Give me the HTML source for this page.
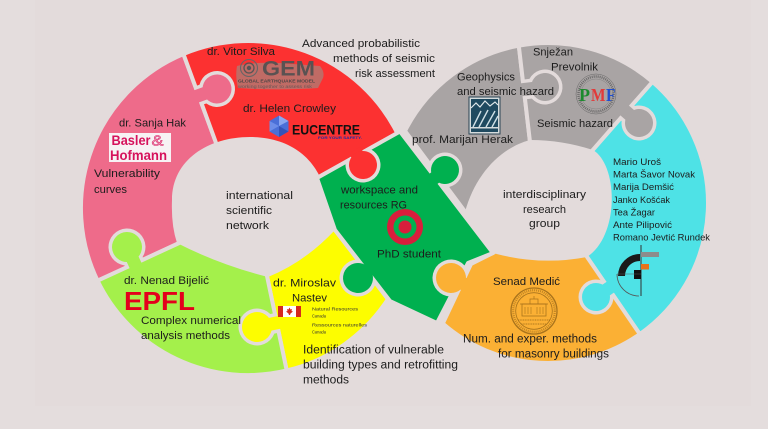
<!DOCTYPE html>
<html><head><meta charset="utf-8">
<style>html,body{margin:0;padding:0;background:#e4dddd;}svg{display:block}</style>
</head><body>
<svg width="768" height="429" viewBox="0 0 768 429" xmlns="http://www.w3.org/2000/svg">
<defs>
<clipPath id="k1"><rect x="-40" y="-40" width="59.5" height="80"/></clipPath>
<clipPath id="k2"><rect x="-40" y="-40" width="58.3" height="80"/></clipPath>
<clipPath id="k3"><rect x="-40" y="-40" width="60" height="80"/></clipPath>
<clipPath id="k4"><rect x="-40" y="-40" width="51.2" height="80"/></clipPath>
<clipPath id="k5"><rect x="-40" y="-40" width="51.1" height="80"/></clipPath>
<clipPath id="k6"><rect x="-40" y="-40" width="52.3" height="80"/></clipPath>
<clipPath id="k7"><rect x="-40" y="-40" width="52.1" height="80"/></clipPath>
<clipPath id="k8"><rect x="-40" y="-40" width="60" height="80"/></clipPath>
<clipPath id="k9"><rect x="-40" y="-40" width="57" height="80"/></clipPath>
<clipPath id="k10"><rect x="-40" y="-40" width="55.2" height="80"/></clipPath>
</defs>
<rect x="0" y="0" width="768" height="429" fill="#e4dddd"/>
<rect x="35" y="0" width="716" height="406" fill="#e3dbdb"/>

<!-- ring pieces -->
<g stroke="#e3dbdb" stroke-width="4" stroke-linejoin="round">
  <path d="M213,227 L177,244 L97.6,280.7 A167 167 0 0 1 183.4,54 L215,140 L232,187 Z" fill="#ee6b8a"/>
  <path d="M232,187 L215,140 L183.4,54 A167 167 0 0 1 397.3,133.2 L317,178 L290,193 Z" fill="#fc3131"/>
  <path d="M315,205 L335,230 L387.9,299.2 A167 167 0 0 1 286.7,370.5 L267,276 L259,237 Z" fill="#fdfd00"/>
  <path d="M259,237 L267,276 L286.7,370.5 A167 167 0 0 1 97.6,280.7 L177,244 L213,227 Z" fill="#a4f04b"/>
  <path d="M535,185 L518.8,45.7 A160 160 0 0 0 405,131 L472,221 L500,215 Z" fill="#a9a4a4"/>
  <path d="M535,185 L518.8,45.7 A160 160 0 0 1 652.5,81.9 L593,150 L570,176 Z" fill="#a9a4a4"/>
  <path d="M570,176 L652.5,81.9 A160 160 0 0 1 639.8,334.1 L587,257 L570,232 Z" fill="#4ee2e6"/>
  <path d="M570,232 L639.8,334.1 A160 160 0 0 1 442.8,323.5 L471,264 L493,253 L520,235 Z" fill="#fbb034"/>
</g>

<!-- holes -->
<path d="M172,200 C172,160 208,137 250,137 C290,137 316,158 325,190 L335,230 Q305,262 268,277 Q220,265 177,243 Q171,225 172,200 Z" fill="#e3dbdb"/>
<path d="M530,140 Q562,140 593,150 C618,165 620,235 587,257 Q540,266 493,253 L465,212 C475,175 500,148 530,140 Z" fill="#e3dbdb"/>

<!-- green crossing piece -->
<path d="M317,178 L400,131.5 L493,253 L468,263 L437,323 L390,301 L335,230 Z" fill="#00b04f" stroke="#e3dbdb" stroke-width="4" stroke-linejoin="round"/>

<!-- knobs -->
<g transform="translate(217,89) rotate(160.2)"><circle r="18" fill="#e3dbdb" clip-path="url(#k1)"/><rect x="0" y="-10" width="19.5" height="20" fill="#e3dbdb"/><rect x="0" y="-6.5" width="25.5" height="13" fill="#ee6b8a"/><circle r="14.5" fill="#ee6b8a"/></g>
<g transform="translate(127,247) rotate(65.2)"><circle r="18.5" fill="#e3dbdb" clip-path="url(#k2)"/><rect x="0" y="-10" width="18.3" height="20" fill="#e3dbdb"/><rect x="0" y="-6.5" width="24.3" height="13" fill="#a4f04b"/><circle r="15" fill="#a4f04b"/></g>
<g transform="translate(257,327) rotate(-11.8)"><circle r="18.5" fill="#e3dbdb" clip-path="url(#k3)"/><rect x="0" y="-10" width="20" height="20" fill="#e3dbdb"/><rect x="0" y="-6.5" width="26" height="13" fill="#fdfd00"/><circle r="15" fill="#fdfd00"/></g>
<g transform="translate(363,165) rotate(-119.3)"><circle r="17.5" fill="#e3dbdb" clip-path="url(#k4)"/><rect x="0" y="-10" width="11.2" height="20" fill="#e3dbdb"/><rect x="0" y="-6.5" width="17.2" height="13" fill="#fc3131"/><circle r="14" fill="#fc3131"/></g>
<g transform="translate(358,278) rotate(-37.7)"><circle r="18.5" fill="#e3dbdb" clip-path="url(#k5)"/><rect x="0" y="-10" width="11.1" height="20" fill="#e3dbdb"/><rect x="0" y="-6.5" width="17.1" height="13" fill="#00b04f"/><circle r="15" fill="#00b04f"/></g>
<g transform="translate(445,170) rotate(142.6)"><circle r="17.5" fill="#e3dbdb" clip-path="url(#k6)"/><rect x="0" y="-10" width="12.3" height="20" fill="#e3dbdb"/><rect x="0" y="-6.5" width="18.3" height="13" fill="#00b04f"/><circle r="14" fill="#00b04f"/></g>
<g transform="translate(451,278) rotate(25.3)"><circle r="18.5" fill="#e3dbdb" clip-path="url(#k7)"/><rect x="0" y="-10" width="12.1" height="20" fill="#e3dbdb"/><rect x="0" y="-6.5" width="18.1" height="13" fill="#fbb034"/><circle r="15" fill="#fbb034"/></g>
<g transform="translate(545,87) rotate(173.2)"><circle r="17.5" fill="#e3dbdb" clip-path="url(#k8)"/><rect x="0" y="-10" width="20" height="20" fill="#e3dbdb"/><rect x="0" y="-6.5" width="26" height="13" fill="#a9a4a4"/><circle r="14" fill="#a9a4a4"/></g>
<g transform="translate(639,123) rotate(-138.9)"><circle r="17.5" fill="#e3dbdb" clip-path="url(#k9)"/><rect x="0" y="-10" width="17" height="20" fill="#e3dbdb"/><rect x="0" y="-6.5" width="23" height="13" fill="#a9a4a4"/><circle r="14" fill="#a9a4a4"/></g>
<g transform="translate(596,297) rotate(-34.4)"><circle r="17.5" fill="#e3dbdb" clip-path="url(#k10)"/><rect x="0" y="-10" width="15.2" height="20" fill="#e3dbdb"/><rect x="0" y="-6.5" width="21.2" height="13" fill="#4ee2e6"/><circle r="14" fill="#4ee2e6"/></g>

<!-- GEM logo -->
<path d="M237,66 Q250,62 280,63 L320,66 Q325,72 323,78 L318,88 Q290,90 255,89 L238,88 Q235,77 237,66 Z" fill="#c06b65"/>
<circle cx="249" cy="68" r="2.2" fill="#555"/>
<circle cx="249" cy="68" r="5" fill="none" stroke="#555" stroke-width="1.3"/>
<circle cx="249" cy="68" r="8.5" fill="none" stroke="#666" stroke-width="1.1"/>
<text x="262" y="75.5" font-family="'Liberation Sans', sans-serif" font-size="21" font-weight="bold" fill="#5a5252" textLength="53" lengthAdjust="spacingAndGlyphs">GEM</text>
<text x="238" y="82.3" font-family="'Liberation Sans', sans-serif" font-size="4.5" font-weight="bold" fill="#4d4545" textLength="77" lengthAdjust="spacingAndGlyphs">GLOBAL EARTHQUAKE MODEL</text>
<text x="238" y="88" font-family="'Liberation Sans', sans-serif" font-size="4.2" fill="#6b5656" textLength="74" lengthAdjust="spacingAndGlyphs">working together to assess risk</text>

<!-- EUCENTRE logo -->
<polygon points="279,115.5 288.5,121 288.5,131.5 279,137 269.5,131.5 269.5,121" fill="#4a6fd8"/>
<polygon points="279,115.5 288.5,121 279,126" fill="#8aa6f0"/>
<polygon points="269.5,121 279,126 269.5,131.5" fill="#6c8de8"/>
<polygon points="279,126 288.5,131.5 279,137" fill="#3553b8"/>
<text x="292" y="134.5" font-family="'Liberation Sans', sans-serif" font-size="13.5" font-weight="bold" fill="#111" textLength="68" lengthAdjust="spacingAndGlyphs">EUCENTRE</text>
<text x="318" y="138.8" font-family="'Liberation Sans', sans-serif" font-size="4" font-weight="bold" fill="#2030a0" textLength="44" lengthAdjust="spacingAndGlyphs">FOR YOUR SAFETY.</text>

<!-- Basler & Hofmann -->
<rect x="109" y="133" width="62" height="29" fill="#f7f2f4"/>
<text x="111.5" y="145" font-family="'Liberation Sans', sans-serif" font-size="14" font-weight="bold" fill="#d6125c" textLength="39" lengthAdjust="spacingAndGlyphs">Basler</text>
<text x="151.5" y="145.5" font-family="'Liberation Sans', sans-serif" font-size="15" fill="#f3b3c9" stroke="#d6125c" stroke-width="0.5" textLength="12" lengthAdjust="spacingAndGlyphs">&amp;</text>
<text x="110" y="160" font-family="'Liberation Sans', sans-serif" font-size="14" font-weight="bold" fill="#d6125c" textLength="57" lengthAdjust="spacingAndGlyphs">Hofmann</text>

<!-- EPFL -->
<text x="124" y="310" font-family="'Liberation Sans', sans-serif" font-size="26" font-weight="bold" fill="#e4001c" textLength="71" lengthAdjust="spacingAndGlyphs">EPFL</text>

<!-- Canada -->
<rect x="278" y="306" width="5" height="11" fill="#d52b1e"/>
<rect x="283" y="306" width="13" height="11" fill="#ffffff"/>
<rect x="296" y="306" width="5" height="11" fill="#d52b1e"/>
<path d="M289.5,307.5 L290.5,309.5 L292,309 L291.5,311 L293,311.5 L290.5,313.5 L290,315 L289,315 L288.5,313.5 L286,311.5 L287.5,311 L287,309 L288.5,309.5 Z" fill="#d52b1e"/>
<g font-family="'Liberation Sans', sans-serif" font-size="4.6" fill="#333">
<text x="312" y="310.5" textLength="46" lengthAdjust="spacingAndGlyphs">Natural Resources</text>
<text x="312" y="317.5" textLength="14" lengthAdjust="spacingAndGlyphs">Canada</text>
<text x="312" y="326.5" textLength="55" lengthAdjust="spacingAndGlyphs">Ressources naturelles</text>
<text x="312" y="333.5" textLength="14" lengthAdjust="spacingAndGlyphs">Canada</text>
</g>

<!-- target -->
<circle cx="405" cy="227" r="18" fill="#d81e3c"/>
<circle cx="405" cy="227" r="11.5" fill="#00b04f"/>
<circle cx="405" cy="227" r="6.5" fill="#d81e3c"/>

<!-- Herak logo -->
<rect x="469" y="97" width="31" height="37" fill="#d5dbdc" stroke="#2b4455" stroke-width="1"/>
<rect x="471" y="99" width="27" height="28" fill="#1f4a60"/>
<rect x="471" y="128.5" width="27" height="3.5" fill="#1f4a60"/>
<polyline points="471,108 476,103 480,107 485,101 490,106 495,102 498,105" fill="none" stroke="#e0e8ea" stroke-width="1.2"/>
<path d="M473,127 L481,111 M479,127 L488,110 M486,127 L495,111 M492,127 L498,116" stroke="#cfe0e6" stroke-width="1.4" fill="none"/>

<!-- PMF logo -->
<circle cx="596" cy="94" r="20" fill="none" stroke="#666" stroke-width="0.5"/>
<circle cx="596" cy="94" r="17.5" fill="none" stroke="#555" stroke-width="2.5" stroke-dasharray="1 1" opacity="0.75"/>
<circle cx="596" cy="94" r="15" fill="none" stroke="#777" stroke-width="0.4"/>
<text x="579" y="101" font-family="'Liberation Serif', serif" font-size="18" font-weight="bold" fill="#1d8a2e" textLength="11" lengthAdjust="spacingAndGlyphs">P</text>
<text x="591" y="101" font-family="'Liberation Serif', serif" font-size="18" font-weight="bold" fill="#e23a3a" textLength="14.5" lengthAdjust="spacingAndGlyphs">M</text>
<text x="606" y="101" font-family="'Liberation Serif', serif" font-size="18" font-weight="bold" fill="#1f4fd0" textLength="9.5" lengthAdjust="spacingAndGlyphs">F</text>

<!-- GF logo -->
<line x1="641" y1="245" x2="641" y2="296" stroke="#333" stroke-width="1"/>
<rect x="641" y="252" width="18" height="5" fill="#8c8c8c"/>
<rect x="641" y="264" width="8" height="5.5" fill="#e8731a"/>
<path d="M621.5,276 A18.5 18.5 0 0 1 640,257.5" fill="none" stroke="#1a1a1a" stroke-width="7"/>
<rect x="634" y="270" width="7" height="9" fill="#111"/>
<path d="M617,274 A22 22 0 0 0 639,296" fill="none" stroke="#555" stroke-width="0.8"/>
<line x1="617" y1="274" x2="641" y2="274" stroke="#555" stroke-width="0.6"/>

<!-- University seal -->
<g fill="none" stroke="#a8731c">
<circle cx="534" cy="311" r="23" stroke-width="1.3"/>
<circle cx="534" cy="311" r="20.8" stroke-width="2.2" stroke-dasharray="1 1" opacity="0.7"/>
<circle cx="534" cy="311" r="18.3" stroke-width="0.8"/>
<rect x="522" y="304" width="24" height="12" stroke-width="0.8"/>
<path d="M525,307v7M528,307v7M531,307v7M537,307v7M540,307v7M543,307v7" stroke-width="0.6"/>
<path d="M530,304v-5h8v5M534,299v-3M520,304h28" stroke-width="0.7"/>
<path d="M518,320h32M521,324h26" stroke-width="1" stroke-dasharray="1 0.7"/>
</g>

<!-- labels -->
<g font-family="'Liberation Sans', 'DejaVu Sans', sans-serif" font-size="11" fill="#1c1c1c">
<text x="207" y="55" textLength="68" lengthAdjust="spacingAndGlyphs">dr. Vitor Silva</text>
<text x="302" y="47" textLength="118" lengthAdjust="spacingAndGlyphs">Advanced probabilistic</text>
<text x="333" y="62" textLength="102" lengthAdjust="spacingAndGlyphs">methods  of seismic</text>
<text x="355" y="77" textLength="80" lengthAdjust="spacingAndGlyphs">risk assessment</text>
<text x="243" y="112" textLength="93" lengthAdjust="spacingAndGlyphs">dr. Helen Crowley</text>
<text x="119" y="126.5" textLength="67" lengthAdjust="spacingAndGlyphs">dr. Sanja Hak</text>
<text x="94" y="177" textLength="66" lengthAdjust="spacingAndGlyphs">Vulnerability</text>
<text x="94" y="193" textLength="33" lengthAdjust="spacingAndGlyphs">curves</text>
<text x="226" y="199" textLength="67" lengthAdjust="spacingAndGlyphs">international</text>
<text x="226" y="214" textLength="46" lengthAdjust="spacingAndGlyphs">scientific</text>
<text x="226" y="229" textLength="43" lengthAdjust="spacingAndGlyphs">network</text>
<text x="341" y="193.5" textLength="77" lengthAdjust="spacingAndGlyphs">workspace and</text>
<text x="340" y="208.5" textLength="67" lengthAdjust="spacingAndGlyphs">resources RG</text>
<text x="377" y="257.5" textLength="64" lengthAdjust="spacingAndGlyphs">PhD student</text>
<text x="124" y="284" textLength="85" lengthAdjust="spacingAndGlyphs">dr. Nenad Bijelić</text>
<text x="141" y="324" textLength="100" lengthAdjust="spacingAndGlyphs">Complex numerical</text>
<text x="141" y="339" textLength="89" lengthAdjust="spacingAndGlyphs">analysis methods</text>
<text x="273" y="286.5" textLength="63" lengthAdjust="spacingAndGlyphs">dr. Miroslav</text>
<text x="292" y="301.5" textLength="35" lengthAdjust="spacingAndGlyphs">Nastev</text>
<text x="303" y="353.5" font-size="11.5" textLength="141" lengthAdjust="spacingAndGlyphs">Identification of vulnerable</text>
<text x="303" y="368.5" font-size="11.5" textLength="155" lengthAdjust="spacingAndGlyphs">building types and retrofitting</text>
<text x="303" y="383.5" font-size="11.5" textLength="46" lengthAdjust="spacingAndGlyphs">methods</text>
<text x="533" y="55.5" textLength="40" lengthAdjust="spacingAndGlyphs">Snježan</text>
<text x="551" y="70.5" textLength="47" lengthAdjust="spacingAndGlyphs">Prevolnik</text>
<text x="457" y="80.5" textLength="58" lengthAdjust="spacingAndGlyphs">Geophysics</text>
<text x="457" y="95" textLength="97" lengthAdjust="spacingAndGlyphs">and seismic hazard</text>
<text x="412" y="143" textLength="101" lengthAdjust="spacingAndGlyphs">prof. Marijan Herak</text>
<text x="537" y="127" textLength="76" lengthAdjust="spacingAndGlyphs">Seismic hazard</text>
<text x="503" y="198" textLength="83" lengthAdjust="spacingAndGlyphs">interdisciplinary</text>
<text x="523" y="213" textLength="43" lengthAdjust="spacingAndGlyphs">research</text>
<text x="529" y="227" textLength="31" lengthAdjust="spacingAndGlyphs">group</text>
<text x="493" y="285" textLength="67" lengthAdjust="spacingAndGlyphs">Senad Medić</text>
<text x="463" y="342.5" font-size="11.5" textLength="134" lengthAdjust="spacingAndGlyphs">Num. and exper. methods</text>
<text x="498" y="357.5" font-size="11.5" textLength="111" lengthAdjust="spacingAndGlyphs">for masonry buildings</text>
</g>
<g font-family="'Liberation Sans', 'DejaVu Sans', sans-serif" font-size="9" fill="#1c1c1c">
<text x="613" y="165" textLength="48" lengthAdjust="spacingAndGlyphs">Mario Uroš</text>
<text x="613" y="177.5" textLength="82" lengthAdjust="spacingAndGlyphs">Marta Šavor Novak</text>
<text x="613" y="190" textLength="61" lengthAdjust="spacingAndGlyphs">Marija Demšić</text>
<text x="613" y="203" textLength="57" lengthAdjust="spacingAndGlyphs">Janko Košćak</text>
<text x="613" y="215.5" textLength="42" lengthAdjust="spacingAndGlyphs">Tea Žagar</text>
<text x="613" y="228" textLength="59" lengthAdjust="spacingAndGlyphs">Ante Pilipović</text>
<text x="613" y="240.5" textLength="97" lengthAdjust="spacingAndGlyphs">Romano Jevtić Rundek</text>
</g>
</svg>
</body></html>
